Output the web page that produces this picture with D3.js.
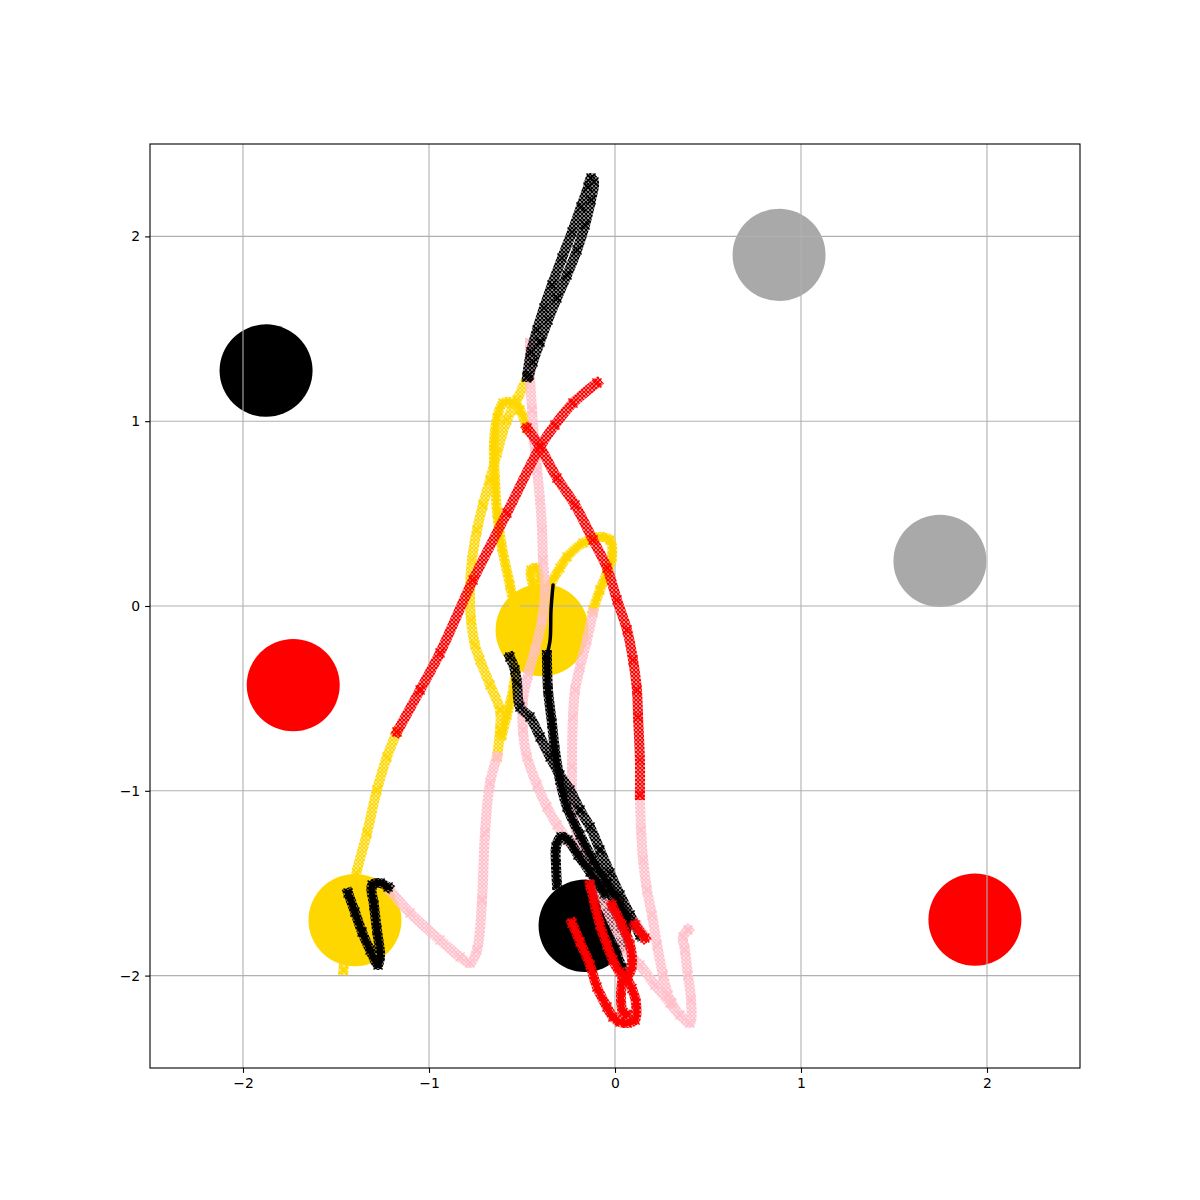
<!DOCTYPE html>
<html><head><meta charset="utf-8">
<script src="https://cdn.jsdelivr.net/npm/d3@7"></script>
<style>body{margin:0;background:#fff}</style>
</head><body>
<svg id="chart" width="1200" height="1200"></svg>
<script>
// ---- axis ticks ----
const xTicks = [-2, -1, 0, 1, 2];
const yTicks = [-2, -1, 0, 1, 2];

// ---- circular obstacles / goals ----
const circleColor = ["black", "darkgray", "darkgray", "red", "red", "gold", "gold", "black"];
const circleCx = [-1.876, 0.882, 1.747, -1.73, 1.935, -0.392, -1.398, -0.161];
const circleCy = [1.274, 1.90, 0.244, -0.428, -1.697, -0.13, -1.70, -1.73];
const circleR = [0.25, 0.25, 0.25, 0.25, 0.25, 0.25, 0.25, 0.25];

// ---- trajectory segments (x, y) ----
const yellow1 = [[-1.46,-1.97],[-1.435,-1.75],[-1.41,-1.59],[-1.39,-1.445],[-1.333,-1.228],[-1.28,-0.996],[-1.226,-0.817],[-1.172,-0.682]];
const yellow2 = [[-0.473,1.234],[-0.527,1.115],[-0.581,1.006],[-0.634,0.828],[-0.672,0.682],[-0.71,0.547],[-0.742,0.411],[-0.769,0.249],[-0.78,0.087],[-0.774,-0.076],[-0.753,-0.211],[-0.726,-0.292],[-0.672,-0.427],[-0.618,-0.563],[-0.618,-0.671],[-0.634,-0.817]];
const yellow3 = [[-0.608,-0.698],[-0.581,-0.59],[-0.548,-0.455],[-0.532,-0.335],[-0.522,-0.184],[-0.538,-0.022],[-0.565,0.114],[-0.608,0.319],[-0.634,0.503],[-0.645,0.682],[-0.651,0.871],[-0.634,1.017],[-0.602,1.098],[-0.548,1.098],[-0.511,1.061],[-0.473,0.963]];
const yellow4 = [[-0.441,0.114],[-0.452,0.195],[-0.419,0.206],[-0.403,0.141]];
const yellow5 = [[-0.349,0.114],[-0.296,0.206],[-0.258,0.265],[-0.172,0.341],[-0.081,0.373],[-0.027,0.357],[-0.016,0.265],[-0.043,0.179],[-0.081,0.087],[-0.118,-0.022]];

const pink1 = [[-0.634,-0.817],[-0.672,-0.958],[-0.699,-1.228],[-0.715,-1.591],[-0.742,-1.861],[-0.78,-1.932],[-0.833,-1.899],[-0.941,-1.807],[-1.102,-1.661],[-1.21,-1.537]];
const pink2 = [[-0.457,1.423],[-0.457,1.25],[-0.446,1.061],[-0.435,0.898],[-0.419,0.736],[-0.403,0.574],[-0.392,0.411],[-0.387,0.249],[-0.376,0.087],[-0.392,-0.076],[-0.43,-0.238],[-0.468,-0.373],[-0.495,-0.509],[-0.495,-0.671],[-0.473,-0.817],[-0.419,-0.969],[-0.366,-1.088],[-0.312,-1.185],[-0.258,-1.266],[-0.188,-1.347],[-0.134,-1.412],[-0.043,-1.521],[0.038,-1.618],[0.118,-1.726],[0.151,-1.78]];
const pink3 = [[-0.118,-0.038],[-0.151,-0.184],[-0.188,-0.33],[-0.215,-0.455],[-0.226,-0.601],[-0.231,-0.871],[-0.226,-1.142],[-0.188,-1.293],[-0.124,-1.456],[-0.054,-1.618],[0.016,-1.78],[0.054,-1.861],[0.134,-1.943],[0.215,-2.051],[0.296,-2.148],[0.349,-2.213],[0.403,-2.256],[0.409,-2.132],[0.392,-1.997],[0.376,-1.861],[0.366,-1.791],[0.392,-1.753]];
const pink4 = [[0.134,-1.023],[0.14,-1.212],[0.151,-1.374],[0.172,-1.537],[0.199,-1.672],[0.226,-1.834],[0.258,-1.997],[0.285,-2.105],[0.306,-2.148]];

const black1 = [[-0.473,1.239],[-0.452,1.374],[-0.419,1.494],[-0.382,1.613],[-0.339,1.737],[-0.285,1.883],[-0.231,2.024],[-0.183,2.159],[-0.145,2.267],[-0.129,2.316],[-0.113,2.294],[-0.129,2.197],[-0.161,2.062],[-0.204,1.926],[-0.258,1.791],[-0.312,1.667],[-0.36,1.548],[-0.403,1.429],[-0.441,1.32],[-0.462,1.25]];
const black2 = [[-1.22,-1.521],[-1.263,-1.499],[-1.306,-1.51],[-1.296,-1.618],[-1.28,-1.753],[-1.263,-1.889],[-1.274,-1.943],[-1.317,-1.861],[-1.36,-1.764],[-1.398,-1.656],[-1.435,-1.553]];
const black3 = [[-0.333,0.114],[-0.344,-0.022],[-0.349,-0.184],[-0.366,-0.265]];
const black4 = [[-0.366,-0.265],[-0.36,-0.455],[-0.339,-0.633],[-0.323,-0.779],[-0.296,-0.942],[-0.258,-1.088],[-0.188,-1.239],[-0.118,-1.374],[-0.043,-1.499],[0.027,-1.618],[0.081,-1.726]];
const black5 = [[-0.565,-0.276],[-0.538,-0.346],[-0.527,-0.417],[-0.511,-0.547],[-0.457,-0.601],[-0.403,-0.709],[-0.349,-0.817],[-0.296,-0.915],[-0.242,-0.996],[-0.188,-1.104],[-0.134,-1.196],[-0.081,-1.32],[-0.027,-1.445],[0.027,-1.564],[0.081,-1.672],[0.134,-1.78]];
const black6 = [[-0.312,-1.51],[-0.317,-1.402],[-0.317,-1.304],[-0.29,-1.25],[-0.253,-1.266],[-0.199,-1.347],[-0.134,-1.439],[-0.054,-1.553]];
const black7 = [[-0.054,-1.753],[0.0,-1.861],[0.038,-1.959]];

const red1 = [[-1.172,-0.682],[-1.048,-0.455],[-0.941,-0.254],[-0.763,0.141],[-0.581,0.503],[-0.403,0.86],[-0.323,0.979],[-0.226,1.098],[-0.097,1.207]];
const red2 = [[-0.473,0.963],[-0.403,0.86],[-0.312,0.693],[-0.215,0.547],[-0.118,0.357],[-0.043,0.206],[0.011,0.032],[0.065,-0.13],[0.097,-0.292],[0.118,-0.455],[0.124,-0.601],[0.134,-0.833],[0.134,-1.023]];
const red3 = [[-0.231,-1.715],[-0.188,-1.818],[-0.134,-1.943],[-0.097,-2.062],[-0.043,-2.17],[-0.011,-2.224],[0.027,-2.251],[0.065,-2.256],[0.108,-2.24],[0.113,-2.148],[0.091,-2.07],[0.065,-2.02]];
const red4 = [[-0.134,-1.51],[-0.108,-1.618],[-0.081,-1.726],[-0.043,-1.834],[-0.011,-1.916],[0.027,-1.981],[0.07,-1.997],[0.091,-1.943],[0.081,-1.834],[0.038,-1.726],[-0.016,-1.618]];
const red5 = [[0.108,-1.726],[0.161,-1.797]];
const red6 = [[0.038,-2.03],[0.032,-2.12],[0.043,-2.2],[0.065,-2.21]];

// drawing list (colour per segment, in draw order)
const segColors = ["gold","gold","gold","gold","gold","pink","pink","pink","pink","black","black","black","black","black","black","black","red","red","red","red","red","red"];
const segData = [yellow1,yellow2,yellow3,yellow4,yellow5,pink1,pink2,pink3,pink4,black1,black2,black3,black4,black5,black6,black7,red1,red2,red3,red4,red5,red6];
const segDense = [false,false,true,true,true,false,false,false,false,false,true,false,true,false,true,true,false,false,true,true,true,true];
const segThin = [false,false,false,false,false,false,false,false,false,false,false,true,false,false,false,false,false,false,false,false,false,false];

// ---- layout ----
const W = 1200, H = 1200;
const m = {left:150, right:120, top:144, bottom:132};
const svg = d3.select("#chart");
const x = d3.scaleLinear().domain([-2.5, 2.5]).range([m.left, W - m.right]);
const y = d3.scaleLinear().domain([-2.5, 2.5]).range([H - m.bottom, m.top]);

// hatch patterns to mimic dense 'x' markers
const defs = svg.append("defs");
["gold","pink","black","red"].forEach(c => {
  const p = defs.append("pattern").attr("id","h-"+c).attr("patternUnits","userSpaceOnUse")
    .attr("width",4).attr("height",4);
  p.append("path").attr("d","M0,0L4,4M4,0L0,4M-1,3L1,5M3,-1L5,1M-1,1L1,-1M3,5L5,3")
    .attr("stroke",c).attr("stroke-width",1.5).attr("fill","none");
});

const clip = defs.append("clipPath").attr("id","clip");
clip.append("rect").attr("x",m.left).attr("y",m.top).attr("width",W-m.left-m.right).attr("height",H-m.top-m.bottom);

const plot = svg.append("g").attr("clip-path","url(#clip)");

// circles
plot.selectAll("ellipse.c").data(d3.range(circleCx.length)).join("ellipse")
  .attr("cx", i => x(circleCx[i])).attr("cy", i => y(circleCy[i]))
  .attr("rx", i => x(circleR[i]) - x(0)).attr("ry", i => y(0) - y(circleR[i]))
  .attr("fill", i => circleColor[i]);

// grid
const grid = svg.append("g");
grid.selectAll("line.gx").data(xTicks).join("line")
  .attr("x1", d => x(d)).attr("x2", d => x(d)).attr("y1", m.top).attr("y2", H - m.bottom)
  .attr("stroke","#b0b0b0").attr("stroke-width",1.1);
grid.selectAll("line.gy").data(yTicks).join("line")
  .attr("y1", d => y(d)).attr("y2", d => y(d)).attr("x1", m.left).attr("x2", W - m.right)
  .attr("stroke","#b0b0b0").attr("stroke-width",1.1);

// trajectories
const line = d3.line().x(d => x(d[0])).y(d => y(d[1])).curve(d3.curveCatmullRom.alpha(0.5));
const tg = svg.append("g").attr("clip-path","url(#clip)");
segData.forEach((pts, i) => {
  const c = segColors[i];
  if (segThin[i]) {
    tg.append("path").attr("d", line(pts)).attr("fill","none").attr("stroke",c)
      .attr("stroke-width",3.5).attr("stroke-linecap","round");
    return;
  }
  if (segDense[i]) {
    tg.append("path").attr("d", line(pts)).attr("fill","none").attr("stroke",c)
      .attr("stroke-width",6).attr("stroke-linecap","round").attr("stroke-linejoin","round");
  }
  tg.append("path").attr("d", line(pts)).attr("fill","none").attr("stroke","url(#h-"+c+")")
    .attr("stroke-width",10).attr("stroke-linecap","square").attr("stroke-linejoin","round");
  // x markers at the sampled points
  tg.selectAll(null).data(pts).join("path")
    .attr("d", d => { const px = x(d[0]), py = y(d[1]), r = 4.5;
      return `M${px-r},${py-r}L${px+r},${py+r}M${px-r},${py+r}L${px+r},${py-r}`; })
    .attr("stroke", c).attr("stroke-width",1.5).attr("fill","none");
});

// axes
const fmt = d => (d < 0 ? "\u2212" + Math.abs(d) : String(d));
const xAxis = svg.append("g").attr("transform",`translate(0,${H - m.bottom})`)
  .call(d3.axisBottom(x).tickValues(xTicks).tickFormat(fmt).tickSize(4.9).tickPadding(4.9));
const yAxis = svg.append("g").attr("transform",`translate(${m.left},0)`)
  .call(d3.axisLeft(y).tickValues(yTicks).tickFormat(fmt).tickSize(4.9).tickPadding(4.9));
[xAxis, yAxis].forEach(a => {
  a.select(".domain").remove();
  a.selectAll(".tick line").attr("stroke","black").attr("stroke-width",1.1);
  a.selectAll(".tick text").attr("fill","black").style("font-family","'DejaVu Sans', sans-serif").style("font-size","13.9px");
});

// frame
svg.append("rect").attr("x",m.left).attr("y",m.top).attr("width",W-m.left-m.right).attr("height",H-m.top-m.bottom)
  .attr("fill","none").attr("stroke","black").attr("stroke-width",1.1);
</script>
</body></html>
